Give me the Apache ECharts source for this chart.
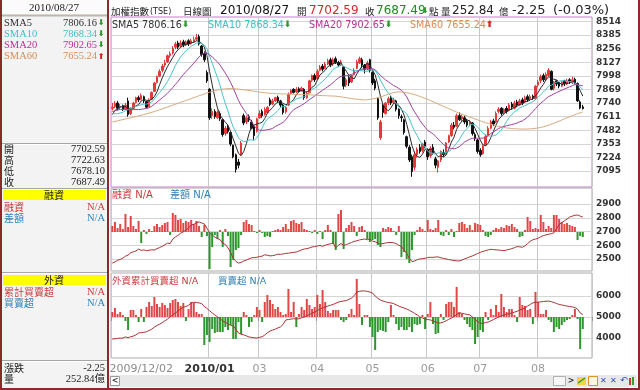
<!DOCTYPE html>
<html><head><meta charset="utf-8">
<script src="https://cdn.jsdelivr.net/npm/echarts@6/dist/echarts.min.js"></script>
<style>html,body{margin:0;padding:0;background:#fff}#c{width:640px;height:390px}</style>
</head><body><div id="c"></div>
<script>
// ---------------- DATA ----------------
const tickIndex = [0, 37, 56, 78, 99, 120, 140, 162];
const tickText = ['2009/12/02', '2010/01', '03', '04', '05', '06', '07', '08'];
const slotCount = 183;
const priceTicks = [7095, 7224, 7353, 7482, 7611, 7740, 7869, 7998, 8127, 8256, 8385, 8514];
const marginTicks = [2500, 2600, 2700, 2800, 2900];
const foreignTicks = [4000, 5000, 6000];

const opens = [7690,7705,7740,7700,7715,7685,7760,7640,7690,7745, 7790,7775,7800,7755,7705,7775,7850,7935,7995,8050, 8100,8130,8190,8215,8270,8310,8280,8320,8290,8330, 8305,8320,8345,8370,8280,8210,8030,7870,7620,7660, 7600,7640,7580,7450,7510,7460,7340,7250,7180,7250, 7620,7560,7610,7560,7520,7470,7600,7660,7630,7650, 7770,7730,7760,7795,7760,7720,7655,7720,7830,7870, 7845,7875,7855,7870,7790,7840,7955,8000,7970,8050, 8090,8070,8110,8150,8110,8160,8125,8100,8080,7910, 7980,7940,8010,8070,8120,8150,8100,8060,8150,8030, 7950,7780,7410,7720,7640,7740,7790,7745,7760,7680, 7610,7580,7420,7320,7230,7130,7250,7320,7290,7370, 7300,7240,7320,7210,7130,7200,7270,7260,7370,7430, 7530,7520,7620,7590,7600,7570,7540,7550,7440,7390, 7290,7260,7340,7430,7500,7570,7560,7660,7690,7650, 7690,7670,7730,7690,7750,7720,7770,7750,7800,7780, 7805,7780,7910,7950,8000,7960,8000,8040,7880,7950, 7930,7900,7950,7920,7960,7930,7965,7925,7750,7702.59];
const closes = [7700,7735,7690,7710,7680,7720,7630,7690,7740,7790, 7770,7810,7760,7700,7770,7840,7930,7990,8040,8090, 8120,8188,8208,8260,8300,8270,8310,8290,8320,8300, 8330,8340,8360,8300,8200,8150,7950,7600,7660,7610, 7650,7590,7440,7500,7470,7350,7230,7110,7150,7360, 7550,7600,7580,7500,7430,7590,7640,7620,7680,7700, 7725,7760,7790,7760,7720,7650,7700,7820,7860,7840, 7870,7850,7880,7790,7830,7950,8000,7960,8040,8080, 8060,8110,8140,8100,8150,8120,8100,8130,7900,7960, 7930,8000,8050,8130,8160,8100,8060,8120,8050,7930, 7880,7600,7560,7650,7740,7780,7740,7770,7680,7620, 7600,7460,7330,7200,7090,7250,7300,7280,7350,7330, 7230,7310,7270,7150,7190,7280,7250,7360,7430,7530, 7510,7620,7580,7610,7560,7530,7560,7450,7400,7280, 7250,7330,7420,7500,7560,7540,7640,7680,7640,7680, 7660,7720,7700,7740,7720,7760,7740,7790,7770,7800, 7790,7900,7940,7990,7960,8010,8050,7870,7940,7920, 7900,7940,7920,7950,7944,7960,7930,7760,7692,7687.49];
const lows = [7670,7690,7670,7680,7665,7675,7610,7625,7680,7735, 7750,7765,7740,7690,7700,7770,7845,7925,7985,8030, 8080,8120,8170,8200,8250,8250,8265,8270,8280,8280, 8295,8310,8330,8285,8180,8130,7930,7580,7590,7590, 7590,7570,7420,7430,7450,7330,7215,7080,7120,7240, 7530,7540,7560,7490,7390,7460,7590,7600,7620,7640, 7710,7720,7750,7740,7700,7630,7640,7710,7820,7830, 7835,7840,7850,7770,7780,7830,7940,7940,7965,8040, 8040,8060,8100,8080,8090,8110,8080,8090,7870,7890, 7900,7930,8000,8060,8110,8070,8020,8050,8030,7910, 7860,7580,7390,7600,7630,7720,7720,7730,7660,7590, 7560,7440,7310,7180,7040,7100,7220,7260,7270,7310, 7200,7220,7250,7120,7080,7180,7230,7250,7360,7420, 7490,7510,7570,7570,7540,7510,7520,7430,7380,7260, 7230,7250,7330,7420,7490,7520,7550,7640,7620,7630, 7640,7660,7680,7680,7700,7710,7720,7740,7750,7760, 7770,7770,7890,7930,7940,7950,7990,7860,7860,7900, 7880,7890,7900,7910,7920,7920,7915,7750,7680,7678.10];
const highs = [7740,7760,7760,7730,7725,7740,7790,7700,7750,7800, 7810,7830,7810,7760,7785,7850,7940,8000,8060,8110, 8150,8200,8230,8280,8320,8330,8335,8340,8335,8345, 8350,8370,8395,8390,8290,8230,8050,7880,7690,7680, 7670,7660,7590,7520,7530,7470,7345,7260,7210,7380, 7640,7620,7630,7580,7530,7600,7670,7680,7700,7710, 7790,7780,7800,7810,7770,7730,7710,7840,7870,7880, 7890,7890,7895,7880,7850,7960,8010,8020,8060,8100, 8110,8130,8160,8170,8170,8180,8140,8150,8090,7980, 8000,8010,8070,8150,8180,8170,8110,8140,8160,8040, 7970,7790,7580,7730,7750,7800,7810,7790,7770,7690, 7630,7590,7430,7340,7250,7280,7320,7350,7360,7390, 7310,7330,7350,7230,7200,7290,7300,7370,7440,7550, 7560,7640,7650,7630,7620,7590,7580,7560,7460,7400, 7310,7340,7440,7520,7580,7590,7660,7700,7700,7690, 7710,7740,7750,7760,7770,7780,7790,7810,7820,7820, 7820,7910,7960,8010,8020,8030,8070,8050,7950,7960, 7940,7950,7960,7970,7975,7990,7980,7935,7765,7722.63];
// closes of the 19 sessions before the first visible candle (needed by the moving averages)
const priorCloses = [7580,7540,7610,7650,7700,7730,7690,7720,7760,7800,7740,7690,7640,7610,7560,7540,7590,7640,7680];
const sma60 = [7560,7566,7571,7577,7582,7588,7594,7599,7606,7611, 7618,7624,7631,7637,7645,7651,7660,7667,7676,7684, 7693,7701,7711,7719,7729,7737,7747,7755,7764,7773, 7781,7791,7799,7809,7817,7826,7835,7842,7850,7856, 7863,7867,7872,7874,7876,7877,7877,7874,7872,7868, 7866,7862,7859,7856,7851,7848,7843,7841,7837,7835, 7832,7831,7828,7828,7826,7826,7825,7825,7824,7823, 7823,7821,7821,7819,7819,7817,7816,7814,7813,7811, 7810,7810,7808,7807,7806,7805,7801,7799,7794,7791, 7786,7783,7778,7776,7772,7771,7769,7771,7773,7779, 7784,7791,7797,7806,7814,7824,7831,7839,7843,7846, 7844,7842,7837,7833,7826,7820,7811,7803,7793,7784, 7773,7764,7752,7742,7730,7720,7708,7698,7686,7676, 7664,7654,7643,7634,7624,7616,7606,7598,7588,7580, 7570,7562,7553,7546,7537,7531,7523,7518,7512,7508, 7503,7501,7497,7496,7494,7494,7492,7493,7493,7495, 7496,7500,7503,7509,7514,7522,7529,7539,7548,7559, 7568,7579,7589,7600,7609,7620,7629,7639,7647,7655.24];
const smaLatest = ['7806.16', '7868.34', '7902.65', '7655.24'];
const smaNames = ['SMA5', 'SMA10', 'SMA20', 'SMA60'];
const smaUp = [false, false, false, true];
const ohlcNames = ['開', '高', '低', '收'];
const ohlcLatest = ['7702.59', '7722.63', '7678.10', '7687.49'];
const headerDate = '2010/08/27';
const changeText = '-2.25';
const changePctText = '(-0.03%)';
const volumeText = '252.84';

// margin (融資) daily change (億) and balance
const marginChange = [12,20,8,16,6,36,10,32,12,6, 22,-22,4,-4,6,2,12,16,10,14, 18,20,-6,38,34,24,26,18,22,20, 24,16,22,12,-10,14,-8,-74,-30,-6, -14,4,-30,6,-8,-70,-56,-36,-32,-6, 20,24,16,14,2,-2,4,-2,-10,-8, -10,2,4,6,4,10,16,6,22,24, 18,16,20,6,4,2,-2,4,-4,2, -14,4,14,4,-24,-36,36,44,-34,8, 14,20,12,-8,10,12,4,-14,-20,-16, -14,-26,-30,8,6,10,8,2,-6,12, -50,-40,-54,-62,-36,-6,4,10,6,2, 24,6,4,8,24,-6,-8,4,-6,6, -10,2,18,20,16,8,14,4,18,16, 14,4,-8,-10,-6,4,8,6,10,8, 14,12,16,10,6,-10,-8,4,30,22, 6,8,6,34,20,6,12,8,34,34, 26,20,16,18,14,12,10,-16,-8,-10];
const marginBalance = [2470,2478,2490,2496,2505,2520,2528,2545,2552,2558, 2572,2562,2566,2560,2563,2567,2565,2575,2583,2592, 2603,2615,2612,2645,2660,2672,2688,2697,2712,2725, 2747,2752,2763,2770,2762,2755,2725,2690,2672,2660, 2648,2640,2615,2605,2580,2548,2505,2482,2470,2474, 2485,2492,2500,2508,2510,2512,2518,2520,2530,2527, 2522,2524,2528,2535,2533,2537,2540,2542,2545,2548, 2550,2558,2566,2572,2575,2580,2587,2590,2594,2598, 2592,2600,2606,2610,2616,2580,2600,2612,2598,2605, 2612,2620,2628,2632,2638,2642,2645,2640,2645,2630, 2625,2616,2608,2612,2616,2620,2620,2618,2612,2600, 2590,2565,2540,2505,2480,2485,2495,2500,2502,2505, 2510,2512,2511,2514,2515,2508,2504,2500,2495,2492, 2488,2486,2485,2492,2500,2508,2515,2522,2530,2540, 2548,2555,2560,2566,2570,2568,2566,2565,2562,2560, 2565,2570,2575,2582,2590,2588,2585,2595,2612,2628, 2640,2645,2650,2662,2670,2675,2680,2684,2690,2720, 2750,2765,2778,2790,2805,2812,2818,2820,2812,2805];
// foreign investors (外資) daily net buy (億) and cumulative
const foreignNet = [20,36,12,20,8,-16,-52,28,28,8, -20,32,-20,40,60,44,80,52,40,56, 48,36,56,68,72,60,44,56,-16,32, 60,56,20,12,12,-112,-72,-100,-48,-64, -60,-60,-60,-40,-52,-32,-88,-88,-20,-68, 20,8,-40,-20,8,40,28,-20,60,88, 68,52,32,40,20,8,12,112,20,60, -40,12,40,28,72,48,32,40,88,52, 108,60,24,16,28,28,28,-12,-20,-12, 12,32,8,152,52,-32,8,8,-40,-80, -132,-60,-52,-56,-60,-20,48,8,-28,-52, -40,-52,-52,-40,-60,-28,-32,-28,8,-48, 12,60,-28,-68,-64,12,-12,52,60,60, 40,120,20,12,-12,-28,-40,-52,-108,-80, -52,-60,20,-12,32,8,48,20,92,40, 20,32,32,8,-20,80,48,44,28,32, -28,100,60,12,12,28,-12,-20,-60,-40, -48,-32,-20,-12,-8,8,32,-8,-128,-48];
const foreignCum = [3952,3960,3985,3990,4000,4050,4020,4060,4090,4150, 4240,4250,4270,4300,4360,4420,4520,4600,4660,4730, 4820,4900,5010,5100,5190,5280,5380,5470,5500,5560, 5670,5700,5690,5670,5640,5500,5410,5300,5190,5100, 5010,4920,4810,4750,4680,4600,4570,4420,4240,4180, 4150,4100,4050,4030,4010,4000,4030,4060,4140,4250, 4330,4380,4420,4480,4530,4650,4860,4880,4900,4920, 4900,4920,4960,5000,5060,5120,5190,5230,5300,5380, 5430,5480,5520,5560,5600,5650,5710,5740,5760,5780, 5840,5900,6020,6190,6220,6240,6240,6220,6190,6140, 6000,5890,5810,5760,5720,5690,5670,5640,5580,5520, 5470,5430,5380,5320,5250,5170,5100,5000,4950,4900, 4880,4860,4820,4760,4710,4720,4760,4820,4890,4950, 5020,5120,5190,5180,5150,5120,5100,5000,4880,4780, 4710,4690,4740,4760,4820,4880,4940,5000,5060,5100, 5130,5160,5190,5230,5270,5330,5380,5430,5520,5600, 5670,5700,5710,5720,5740,5750,5760,5730,5690,5640, 5600,5570,5550,5520,5500,5480,5450,5380,5190,5120];

// ---------------- BUILD ----------------
const SANS = "'DejaVu Sans','Noto Sans CJK TC',sans-serif";
const SERIF = "'Liberation Serif','Noto Sans CJK TC',serif";
const CJK = "'Noto Sans CJK TC','DejaVu Sans',sans-serif";
const slots = Array.from({length: slotCount}, (_, i) => 'd' + i);
const isTick = (i) => tickIndex.indexOf(i) >= 0;
const candleData = opens.map((o, i) => [o, closes[i], lows[i], highs[i]]);
function movingAverage(period) {
  const all = priorCloses.concat(closes);
  const off = priorCloses.length;
  return closes.map((_, i) => {
    let s = 0;
    for (let k = 0; k < period; k++) s += all[off + i - k];
    return +(s / period).toFixed(2);
  });
}
const smaSeries = [movingAverage(5), movingAverage(10), movingAverage(20), sma60];
const smaLineColors = ['#2b2b2b', '#46c3cb', '#a0409e', '#d8aa7c'];
const smaTextColors = ['#333333', '#3bbfc8', '#b8309c', '#d88c58'];
const RED = '#e23a3a', GREEN = '#2f962f';

function T(x, y, text, size, fill, family, align, weight, rich) {
  const st = {text: text, fill: fill, font: (weight || 'normal') + ' ' + size + 'px ' + family, align: align || 'left', verticalAlign: 'middle'};
  if (rich) st.rich = rich;
  return {type: 'text', x: x, y: y, z: 100, silent: true, style: st};
}
function R(x, y, w, h, fill, stroke, z) {
  return {type: 'rect', z: z || 5, silent: true, shape: {x: x, y: y, width: w, height: h}, style: {fill: fill, stroke: stroke || null, lineWidth: stroke ? 1 : 0}};
}
function L(x1, y1, x2, y2, stroke, w, z) {
  return {type: 'line', z: z || 6, silent: true, shape: {x1: x1, y1: y1, x2: x2, y2: y2}, style: {stroke: stroke, lineWidth: w || 1}};
}
const arrowRich = {
  dn: {fill: GREEN, font: 'bold 9px ' + SANS},
  up: {fill: '#d82020', font: 'bold 9px ' + SANS}
};
const g = [];
// left info panel
g.push(R(0, 0, 108, 390, '#f3f3f3', null, 1));
g.push(R(2, 0, 105, 14, '#fbfbfb', null, 2));
g.push(L(2, 15.5, 107, 15.5, '#bdb6ae', 2));
[143.5, 188.5, 272.5, 360.5].forEach(y => { g.push(L(2, y, 107, y, '#a6a6a6', 1)); g.push(L(2, y + 1, 107, y + 1, '#ffffff', 1)); });
g.push(R(3, 190, 103, 10, '#ffff00', null, 3));
g.push(R(3, 275, 103, 10, '#ffff00', null, 3));
g.push(T(54, 8, headerDate, 11, '#222', SERIF, 'center'));
smaNames.forEach((n, k) => {
  const y = 23 + k * 11.2;
  g.push(T(4, y, n, 10.5, smaTextColors[k], SERIF));
  g.push(T(97, y, smaLatest[k], 10.5, smaTextColors[k], SERIF, 'right'));
  g.push(T(98, y, smaUp[k] ? '⬆' : '⬇', 8, smaUp[k] ? '#d82020' : GREEN, SANS, 'left', 'bold'));
});
ohlcNames.forEach((n, k) => {
  const y = 149 + k * 11.2;
  g.push(T(4, y, n, 10, '#222', CJK));
  g.push(T(105, y, ohlcLatest[k], 10.5, '#222', SERIF, 'right'));
});
g.push(T(54, 195, '融資', 10, '#222', CJK, 'center'));
g.push(T(4, 207, '融資', 10, '#c83c3c', CJK));
g.push(T(105, 207, 'N/A', 10.5, '#c83c3c', SERIF, 'right'));
g.push(T(4, 218, '差額', 10, '#2f80b8', CJK));
g.push(T(105, 218, 'N/A', 10.5, '#2f80b8', SERIF, 'right'));
g.push(T(54, 280, '外資', 10, '#222', CJK, 'center'));
g.push(T(4, 292, '累計買賣超', 10, '#c83c3c', CJK));
g.push(T(105, 292, 'N/A', 10.5, '#c83c3c', SERIF, 'right'));
g.push(T(4, 303, '買賣超', 10, '#2f80b8', CJK));
g.push(T(105, 303, 'N/A', 10.5, '#2f80b8', SERIF, 'right'));
g.push(T(4, 368, '漲跌', 10, '#222', CJK));
g.push(T(105, 368, changeText, 10.5, '#222', SERIF, 'right'));
g.push(T(4, 379, '量', 10, '#222', CJK));
g.push(T(105, 379, volumeText + '億', 10.5, '#222', SERIF, 'right'));
// title row
g.push(T(111, 11, '加權指數', 9.5, '#222', CJK));
g.push(T(150, 12, '(TSE)', 8, '#222', SANS));
g.push(T(183, 11, '日線圖', 9.5, '#222', CJK));
g.push(T(220, 11, headerDate, 12, '#111', SANS));
g.push(T(297, 11, '開', 9.5, '#222', CJK));
g.push(T(309, 11, ohlcLatest[0], 12, '#d42a2a', SANS));
g.push(T(365, 11, '收', 9.5, '#222', CJK));
g.push(T(376, 11, ohlcLatest[3], 12, '#1f8a1f', SANS));
g.push(T(422, 11, '⬇', 8, GREEN, SANS, 'left', 'bold'));
g.push(T(429, 11, '點', 9.5, '#222', CJK));
g.push(T(441, 11, '量', 9.5, '#222', CJK));
g.push(T(452, 11, volumeText, 12, '#222', SANS));
g.push(T(499, 11, '億', 9.5, '#222', CJK));
g.push(T(512, 11, changeText, 13, '#222', SANS));
g.push(T(553, 11, changePctText, 13, '#222', SANS));
// legend in price panel
const legX = [112, 208, 309, 410];
smaNames.forEach((n, k) => {
  g.push(T(legX[k], 25, n + ' ' + smaLatest[k] + (smaUp[k] ? '{up|⬆}' : '{dn|⬇}'), 9.6, smaTextColors[k], SANS, 'left', 'normal', arrowRich));
});
// sub panel headers
g.push(T(112, 195, '融資 N/A', 10, '#c83c3c', SANS));
g.push(T(170, 195, '差額 N/A', 10, '#2f80b8', SANS));
g.push(T(112, 282, '外資累計買賣超 N/A', 9.5, '#c83c3c', SANS));
g.push(T(218, 282, '買賣超 N/A', 9.5, '#2f80b8', SANS));
// bottom scroll strip
g.push(R(109, 375, 528, 12, '#e8e8e8', null, 2));
g.push(R(110.5, 376.5, 9, 9, '#ffffff', '#9a9a9a', 3));
g.push(T(115, 381, '<', 8, '#333', SANS, 'center', 'bold'));
g.push(R(553.5, 376.5, 12, 9, '#f6f6f6', '#b0b0b0', 3));
g.push(T(571, 381, '>', 8, '#333', SANS, 'center', 'bold'));
g.push(R(577, 377, 9, 8, '#f3d34a', null, 3));
g.push(L(578, 383, 585, 378, '#2a9a3a', 1.5, 4));
g.push(R(588.5, 376.5, 9, 9, '#fff6e0', '#e0902a', 3));
g.push(T(600, 381, '✕', 8, '#3050c0', SANS));
g.push(T(610, 381, '✕', 8, '#3050c0', SANS));
g.push(T(620, 381, '↶', 9, '#3050c0', SANS));
g.push(R(629, 378, 2, 7, '#e03030', null, 3));
g.push(R(632, 377, 2, 8, '#30a030', null, 3));
// frame
g.push(R(0, 0, 2, 390, '#8a2a2a', null, 8));
g.push(R(107, 0, 2, 390, '#8a2a2a', null, 8));
g.push(R(638, 0, 2, 390, '#8a2a2a', null, 8));
g.push(R(0, 388, 640, 2, '#8a2a2a', null, 8));

const yLabel = {margin: 4, color: '#333', fontSize: 9, fontWeight: 'bold', fontFamily: SANS, formatter: v => String(Math.round(v))};
const splitCol = '#d5d5d5';
function visibleY(grid, min, max, ticks) {
  return {type: 'value', gridIndex: grid, position: 'right', min: min, max: max,
    axisLine: {show: false}, axisTick: {show: false, customValues: ticks},
    axisLabel: Object.assign({customValues: ticks}, yLabel),
    splitLine: {show: true, lineStyle: {color: splitCol, width: 1}}};
}
const option = {
  animation: false,
  backgroundColor: '#ffffff',
  grid: [
    {left: 111, top: 17, width: 481, height: 170, show: true, borderColor: '#c77ed0', borderWidth: 1, outerBoundsMode: 'none'},
    {left: 111, top: 188, width: 481, height: 83, show: true, borderColor: '#ababab', borderWidth: 1, outerBoundsMode: 'none'},
    {left: 111, top: 273, width: 481, height: 85, show: true, borderColor: '#ababab', borderWidth: 1, outerBoundsMode: 'none'}
  ],
  xAxis: [0, 1, 2].map(gi => ({
    type: 'category', gridIndex: gi, data: slots, boundaryGap: true,
    axisLine: {show: false},
    axisTick: gi === 2 ? {show: true, interval: isTick, length: 4, lineStyle: {color: '#999'}} : {show: false},
    axisLabel: gi === 2 ? {
      show: true, interval: isTick, margin: 6,
      formatter: (v, i) => {
        const k = tickIndex.indexOf(i);
        if (k < 0) return '';
        if (k === 0) return '{first|' + tickText[0] + '}';
        if (k === 1) return '{strong|' + tickText[1] + '}';
        return '{norm|' + tickText[k] + '}';
      },
      rich: {
        first: {color: '#8a8a8a', fontSize: 11, fontFamily: SANS, padding: [0, 0, 0, 58]},
        strong: {color: '#333', fontSize: 11, fontWeight: 'bold', fontFamily: SANS},
        norm: {color: '#9a9a9a', fontSize: 11, fontFamily: SANS}
      }
    } : {show: false},
    splitLine: {show: true, interval: isTick, lineStyle: {color: '#c9c9c9', width: 1}}
  })),
  yAxis: [
    visibleY(0, 6943, 8556, priceTicks),
    visibleY(1, 2412, 3017, marginTicks),
    {type: 'value', gridIndex: 1, show: false, min: -78, max: 88},
    visibleY(2, 3048, 7095, foreignTicks),
    {type: 'value', gridIndex: 2, show: false, min: -164, max: 176}
  ],
  series: [
    {type: 'candlestick', xAxisIndex: 0, yAxisIndex: 0, data: candleData, barWidth: 2,
      itemStyle: {color: RED, color0: '#111', borderColor: RED, borderColor0: '#111', borderWidth: 1}},
  ].concat(smaSeries.map((d, k) => ({
    type: 'line', xAxisIndex: 0, yAxisIndex: 0, data: d, symbol: 'none', z: 3,
    lineStyle: {color: smaLineColors[k], width: 1}, itemStyle: {color: smaLineColors[k]}
  }))).concat([
    {type: 'bar', xAxisIndex: 1, yAxisIndex: 2, data: marginChange, barWidth: 2,
      itemStyle: {color: p => p.value >= 0 ? '#e04848' : GREEN}},
    {type: 'line', xAxisIndex: 1, yAxisIndex: 1, data: marginBalance, symbol: 'none', z: 3,
      lineStyle: {color: '#a83434', width: 1}},
    {type: 'bar', xAxisIndex: 2, yAxisIndex: 4, data: foreignNet, barWidth: 2,
      itemStyle: {color: p => p.value >= 0 ? '#e04848' : GREEN}},
    {type: 'line', xAxisIndex: 2, yAxisIndex: 3, data: foreignCum, symbol: 'none', z: 3,
      lineStyle: {color: '#a83434', width: 1}}
  ]),
  graphic: {elements: g}
};
const chart = echarts.init(document.getElementById('c'), null, {renderer: 'canvas'});
chart.setOption(option);
</script></body></html>
